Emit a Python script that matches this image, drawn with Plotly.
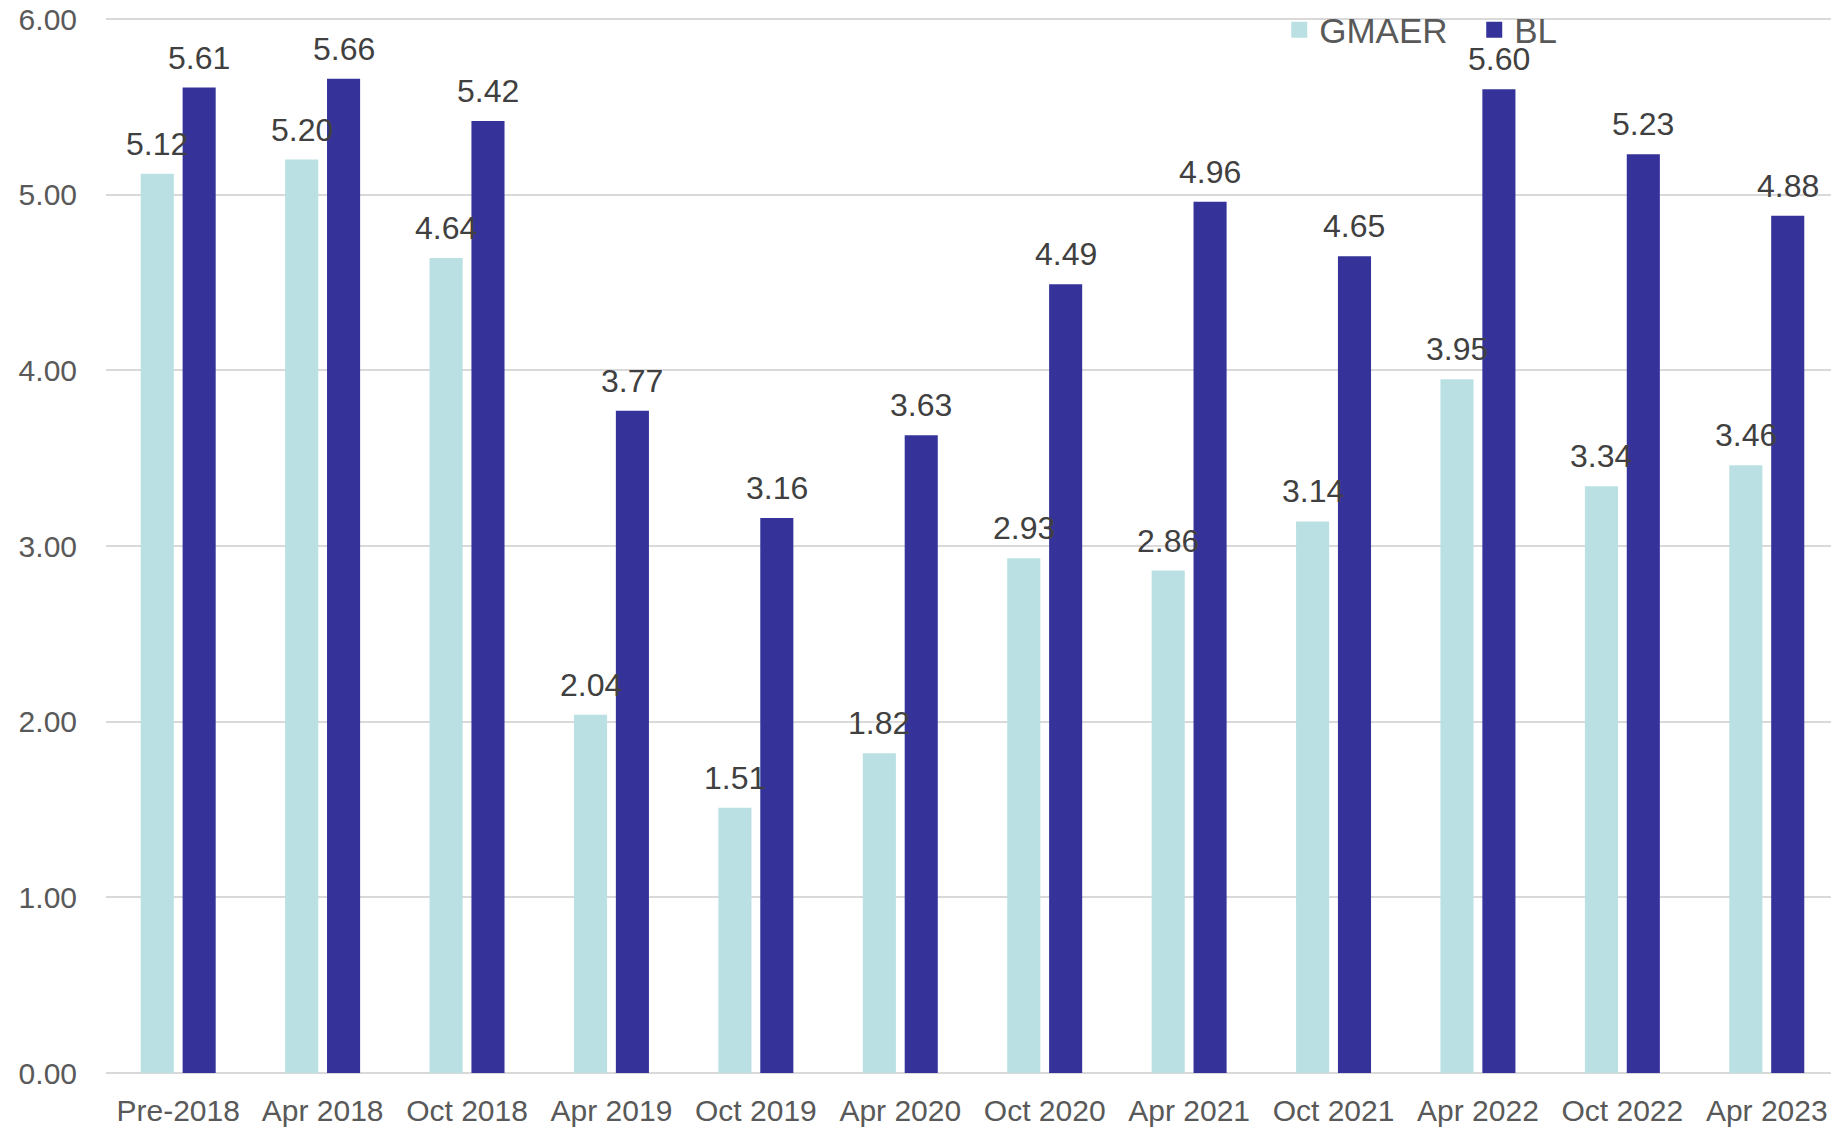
import plotly.graph_objects as go

categories = ["Pre-2018", "Apr 2018", "Oct 2018", "Apr 2019", "Oct 2019", "Apr 2020",
              "Oct 2020", "Apr 2021", "Oct 2021", "Apr 2022", "Oct 2022", "Apr 2023"]
gmaer = [5.12, 5.20, 4.64, 2.04, 1.51, 1.82, 2.93, 2.86, 3.14, 3.95, 3.34, 3.46]
bl = [5.61, 5.66, 5.42, 3.77, 3.16, 3.63, 4.49, 4.96, 4.65, 5.60, 5.23, 4.88]
y_ticks = [0, 1, 2, 3, 4, 5, 6]

FONT = "Arial, Liberation Sans, sans-serif"
LABEL_COLOR = "#404040"
TICK_COLOR = "#595959"
COLORS = {"GMAER": "#BAE0E3", "BL": "#35339A"}

# the page body adds an 8px margin, so the figure is sized to compensate
W, H = 1831, 1122
ML, MR, MT, MB = 98, 0, 10, 57
BARGAP, BARGROUPGAP = 0.42, 0.21
Y_MAX = 6.006  # tiny headroom so the top gridline is not clipped at the plot edge

# pixel offset of each bar's centre from its category centre (layout geometry)
cat_px = (W - ML - MR) / len(categories)
slot_px = cat_px * (1 - BARGAP) / 2
offsets = {"GMAER": -slot_px / 2, "BL": slot_px / 2}
plot_h = H - MT - MB

fig = go.Figure()
series = [("GMAER", gmaer), ("BL", bl)]
for name, vals in series:
    fig.add_trace(go.Bar(
        name=name, x=categories, y=vals, showlegend=False,
        marker=dict(color=COLORS[name], line=dict(width=0)),
    ))
# legend entries with larger square symbols
for name, vals in series:
    fig.add_trace(go.Scatter(
        name=name, x=[None], y=[None], mode="markers",
        marker=dict(symbol="square", size=17, color=COLORS[name]),
        showlegend=True,
    ))

annotations = []
for name, vals in series:
    for cat, v in zip(categories, vals):
        annotations.append(dict(
            x=cat, y=v, xref="x", yref="y", text=f"{v:.2f}", showarrow=False,
            xanchor="center", yanchor="bottom", xshift=offsets[name], yshift=10,
            font=dict(family=FONT, size=32, color=LABEL_COLOR),
        ))

fig.update_layout(
    width=W, height=H,
    margin=dict(l=ML, r=MR, t=MT, b=MB, autoexpand=False),
    paper_bgcolor="white", plot_bgcolor="white",
    barmode="group", bargap=BARGAP, bargroupgap=BARGROUPGAP,
    font=dict(family=FONT, color=TICK_COLOR),
    legend=dict(orientation="h", x=0.677, xanchor="left", y=1 - 12 / plot_h,
                yanchor="middle",
                font=dict(family=FONT, size=35, color=TICK_COLOR),
                bgcolor="rgba(0,0,0,0)", entrywidth=150, entrywidthmode="pixels",
                itemsizing="trace", traceorder="normal"),
    annotations=annotations,
)
fig.update_xaxes(showgrid=False, showline=False, ticks="outside", ticklen=11,
                 tickcolor="rgba(0,0,0,0)", automargin=False,
                 ticklabeloverflow="allow",
                 tickfont=dict(family=FONT, size=30, color=TICK_COLOR))
fig.update_yaxes(range=[0, Y_MAX], tickvals=y_ticks, tickformat=".2f",
                 showgrid=True, gridcolor="#D9D9D9", gridwidth=1.5,
                 zeroline=True, zerolinecolor="#D9D9D9", zerolinewidth=1.5,
                 showline=False, ticks="outside", ticklen=22, tickcolor="rgba(0,0,0,0)",
                 automargin=False, ticklabeloverflow="allow",
                 tickfont=dict(family=FONT, size=30, color=TICK_COLOR))

fig.write_html("out.html")
